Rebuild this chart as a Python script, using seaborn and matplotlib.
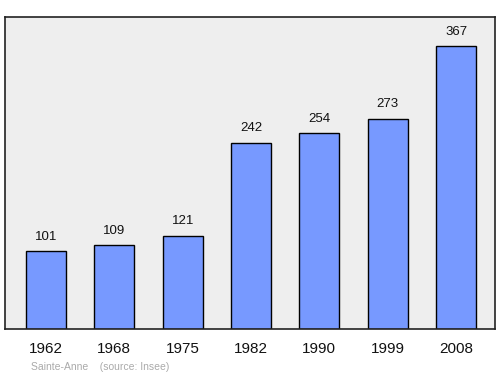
import matplotlib
matplotlib.use("Agg")
import matplotlib.pyplot as plt
import seaborn as sns
import pandas as pd

years = ["1962", "1968", "1975", "1982", "1990", "1999", "2008"]
population = [101, 109, 121, 242, 254, 273, 367]
commune = "Sainte-Anne"
source = "(source: Insee)"

df = pd.DataFrame({"year": years, "pop": population})

sns.set_style("white")
plt.rcParams['font.family'] = ['Liberation Sans', 'DejaVu Sans']

fig = plt.figure(figsize=(5, 3.74), dpi=100)
ax = fig.add_axes([0.01, 0.1203, 0.98, 0.8342])
ax.set_facecolor("#eeeeee")

sns.barplot(data=df, x="year", y="pop", color="#7799ff", edgecolor="black",
            linewidth=1.0, width=0.585, saturation=1, ax=ax)

for i, v in enumerate(population):
    ax.text(i, v + 11, str(v), ha="center", va="bottom", fontsize=9.5, color="#111111")

ax.set_xlim(-0.6, 6.57)
ax.set_ylim(0, 405)
ax.set_yticks([])
ax.set_xlabel("")
ax.set_ylabel("")
ax.tick_params(axis="x", length=0, labelsize=11, pad=9, labelcolor="#111111")
for s in ax.spines.values():
    s.set_visible(True)
    s.set_color("#222222")
    s.set_linewidth(1.2)

fig.text(0.062, 0.012, commune + "    " + source, fontsize=7.5, color="#aaaaaa")

fig.savefig("out.png", dpi=100)
